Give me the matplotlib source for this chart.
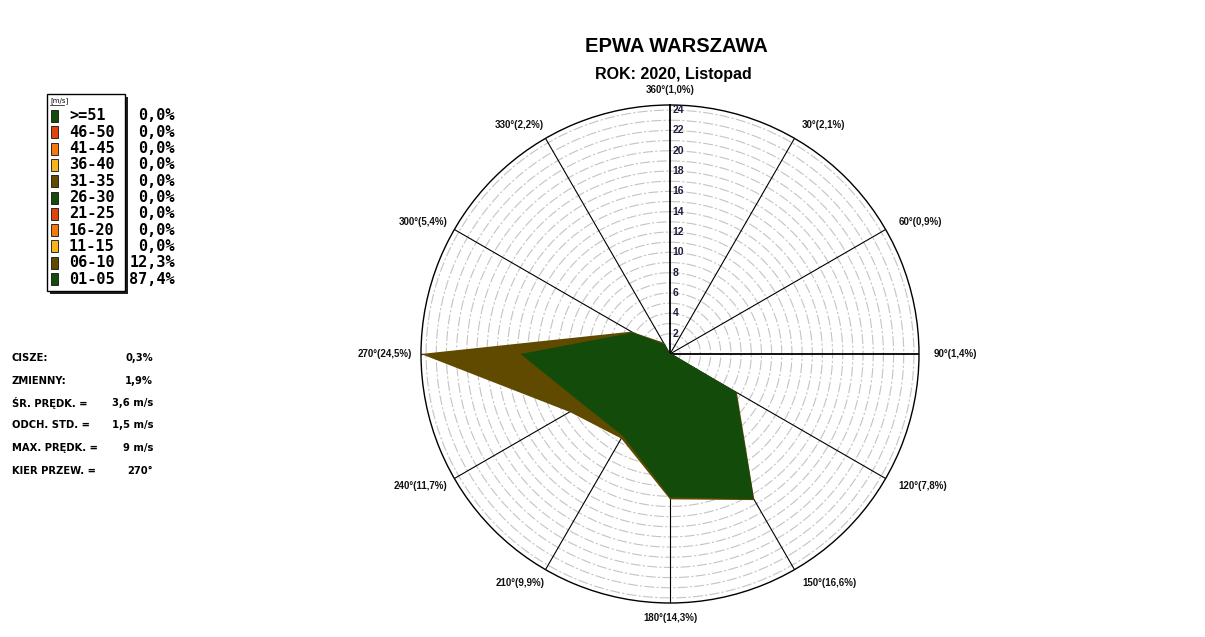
import numpy as np
import matplotlib.pyplot as plt
from matplotlib.patches import Rectangle

# kierunki wiatru i udzialy klas predkosci
directions = [0, 30, 60, 90, 120, 150, 180, 210, 240, 270, 300, 330]
dir_labels = ['360°(1,0%)', '30°(2,1%)', '60°(0,9%)', '90°(1,4%)', '120°(7,8%)',
              '150°(16,6%)', '180°(14,3%)', '210°(9,9%)', '240°(11,7%)',
              '270°(24,5%)', '300°(5,4%)', '330°(2,2%)']
speed_01_05 = [0.0, 0.0, 0.0, 0.2, 7.5, 16.5, 14.1, 9.3, 9.9, 14.7, 4.2, 1.1]
speed_06_10 = [0.0, 0.0, 0.0, 0.0, 0.1, 0.1, 0.2, 0.3, 1.5, 9.8, 0.2, 0.2]
r_ticks = list(range(2, 25, 2))
r_max = 24.5

legend_classes = ['>=51', '46-50', '41-45', '36-40', '31-35', '26-30',
                  '21-25', '16-20', '11-15', '06-10', '01-05']
legend_pct = ['0,0%', '0,0%', '0,0%', '0,0%', '0,0%', '0,0%',
              '0,0%', '0,0%', '0,0%', '12,3%', '87,4%']

stat_names = ['CISZE:', 'ZMIENNY:', 'ŚR. PRĘDK. =', 'ODCH. STD. =',
              'MAX. PRĘDK. =', 'KIER PRZEW. =']
stat_values = ['0,3%', '1,9%', '3,6 m/s', '1,5 m/s', '9 m/s', '270°']

GREEN = '#134b0b'
BROWN = '#5f4a00'
RED = '#e0440c'
ORANGE = '#f27a10'
YELLOW = '#f8b41c'
legend_colors = [GREEN, RED, ORANGE, YELLOW, BROWN, GREEN, RED, ORANGE, YELLOW, BROWN, GREEN]

plt.rcParams['font.family'] = ['Liberation Sans', 'DejaVu Sans']

W, H = 1205, 637
fig = plt.figure(figsize=(W / 100, H / 100), dpi=100)
fig.patch.set_facecolor('white')

# warstwa w pikselach dla legendy i opisow
ov = fig.add_axes([0, 0, 1, 1])
ov.set_xlim(0, W)
ov.set_ylim(H, 0)
ov.axis('off')

# legenda
ov.add_patch(Rectangle((50, 97), 78, 197, facecolor='#202020', edgecolor='none'))
ov.add_patch(Rectangle((47, 94), 78, 197, facecolor='white', edgecolor='black', lw=1))
ov.text(50, 101, '[m/s]', fontsize=5, ha='left', va='center', family='DejaVu Sans')
ov.plot([50, 64], [104.5, 104.5], color='black', lw=0.5)
for i, (lab, col, pct) in enumerate(zip(legend_classes, legend_colors, legend_pct)):
    y = 116 + i * 16.3
    ov.add_patch(Rectangle((51, y - 6), 7, 12, facecolor=col, edgecolor='#111111', lw=0.6))
    ov.text(69, y, lab, fontsize=11, ha='left', va='center',
            family='DejaVu Sans Mono', weight='bold')
    ov.text(175, y, pct, fontsize=11, ha='right', va='center',
            family='DejaVu Sans Mono', weight='bold')

# statystyki
for i, (name, val) in enumerate(zip(stat_names, stat_values)):
    y = 358 + i * 22.5
    ov.text(12, y, name, fontsize=7.2, ha='left', va='center', weight='bold',
            family='DejaVu Sans')
    ov.text(153, y, val, fontsize=7.2, ha='right', va='center', weight='bold',
            family='DejaVu Sans')

# tytuly
ov.text(676, 47, 'EPWA WARSZAWA', fontsize=14.5, weight='bold', ha='center', va='center')
ov.text(673, 75, 'ROK: 2020, Listopad', fontsize=11.5, weight='bold', ha='center', va='center')

# roza wiatrow
cx, cy, rad = 670, 354, 249
ax = fig.add_axes([(cx - rad) / W, (H - cy - rad) / H, 2 * rad / W, 2 * rad / H],
                  projection='polar')
ax.set_theta_zero_location('N')
ax.set_theta_direction(-1)
ax.set_ylim(0, r_max)
ax.set_xticks([])
ax.set_yticks([])
ax.grid(False)
ax.set_facecolor('white')
ax.spines['polar'].set_linewidth(1.0)

th = np.deg2rad(directions)
circ = np.linspace(0, 2 * np.pi, 361)
for r in range(1, 25):
    ax.plot(circ, np.full_like(circ, r), color='#c4c4c4', lw=0.8,
            ls=(0, (9, 2, 2, 2)), zorder=1)
for d, t in zip(directions, th):
    lw = 1.3 if d in (0, 90) else 0.8
    ax.plot([t, t], [0, r_max], color='black', lw=lw, zorder=2)

total = np.array(speed_01_05) + np.array(speed_06_10)
th_c = np.append(th, th[0])
ax.fill(th_c, np.append(total, total[0]), color=BROWN, lw=0, zorder=3)
ax.fill(th_c, np.append(speed_01_05, speed_01_05[0]), color=GREEN, lw=0, zorder=4)

for r in r_ticks:
    ax.annotate(str(r), (0, r), xytext=(2, 0), textcoords='offset points',
                ha='left', va='center', fontsize=7.5, weight='bold',
                color='#1e1e3c', zorder=6)

for d, t, lab in zip(directions, th, dir_labels):
    if d in (0, 180):
        ha, dx = 'center', 0
    elif d < 180:
        ha, dx = 'left', 0
    else:
        ha, dx = 'right', 4.5
    ax.annotate(lab, (t, r_max * 1.06), xytext=(dx, 0), textcoords='offset points',
                ha=ha, va='center', fontsize=7, weight='bold',
                color='#111111', annotation_clip=False)

fig.savefig('out.png', dpi=100)
